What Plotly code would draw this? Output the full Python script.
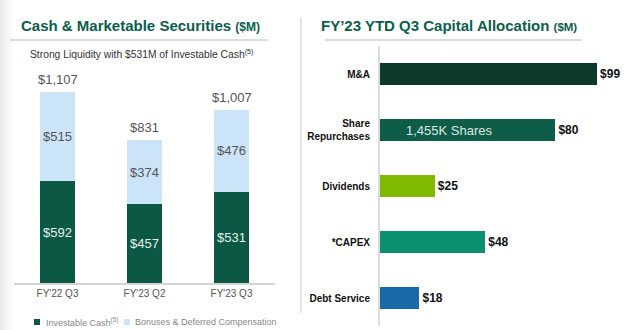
import plotly.graph_objects as go

# ---- Cash & Marketable Securities ($M) ----
periods = ["FY'22 Q3", "FY'23 Q2", "FY'23 Q3"]
investable_cash = [592, 457, 531]
bonuses_deferred = [515, 374, 476]
totals = [1107, 831, 1007]

# ---- FY'23 YTD Q3 Capital Allocation ($M) ----
alloc_labels = ["M&A", "Share<br>Repurchases", "Dividends", "*CAPEX", "Debt Service"]
alloc_values = [99, 80, 25, 48, 18]
alloc_colors = ["#0b3a2b", "#0d5d49", "#7fba00", "#0c8f71", "#1b6aa8"]
share_note = "1,455K Shares"

FONT = "Liberation Sans, Arial, sans-serif"
TITLE_GREEN = "#0b5e4b"
GREEN = "#0b5845"
LIGHT_BLUE = "#cbe4f8"

W, H = 640, 330


def px_x(p):
    return p / W


def px_y(p):
    return 1 - p / H


fig = go.Figure()

fig.add_trace(go.Bar(
    x=periods, y=investable_cash, name="Investable Cash",
    marker=dict(color=GREEN, line=dict(width=0)),
    text=[f"${v}" for v in investable_cash], textposition="inside",
    insidetextanchor="middle", constraintext="none",
    textfont=dict(family=FONT, size=13, color="#e8f0ec"),
    xaxis="x", yaxis="y", hoverinfo="skip",
))
fig.add_trace(go.Bar(
    x=periods, y=bonuses_deferred, name="Bonuses & Deferred Compensation",
    marker=dict(color=LIGHT_BLUE, line=dict(width=0)),
    text=[f"${v}" for v in bonuses_deferred], textposition="inside",
    insidetextanchor="middle", constraintext="none",
    textfont=dict(family=FONT, size=13, color="#555555"),
    xaxis="x", yaxis="y", hoverinfo="skip",
))

fig.add_trace(go.Bar(
    y=alloc_labels, x=alloc_values, orientation="h",
    marker=dict(color=alloc_colors, line=dict(width=0)),
    text=[f"<b>${v}</b>" for v in alloc_values], textposition="outside",
    cliponaxis=False, constraintext="none",
    textfont=dict(family=FONT, size=12, color="#111111"),
    xaxis="x2", yaxis="y2", hoverinfo="skip",
))

annotations = []
# totals above the stacked columns
for p, t in zip(periods, totals):
    annotations.append(dict(
        x=p, y=t, xref="x", yref="y", text=f"${t:,}", showarrow=False,
        yanchor="bottom", yshift=3,
        font=dict(family=FONT, size=13, color="#555555"),
    ))

# note inside the share repurchase bar
annotations.append(dict(
    x=31.5, y=alloc_labels[1], xref="x2", yref="y2", text=share_note,
    showarrow=False, font=dict(family=FONT, size=13, color="#dbe8e2"),
))

# panel titles, subtitle and legend texts
annotations += [
    dict(x=px_x(19), y=px_y(25), xref="paper", yref="paper", xanchor="left", yanchor="middle",
         text="<b>Cash & Marketable Securities <span style='font-size:12px'>($M)</span></b>",
         showarrow=False, font=dict(family=FONT, size=15, color=TITLE_GREEN)),
    dict(x=px_x(319), y=px_y(26), xref="paper", yref="paper", xanchor="left", yanchor="middle",
         text="<b>FY\u201923 YTD Q3 Capital Allocation <span style='font-size:11.5px'>($M)</span></b>",
         showarrow=False, font=dict(family=FONT, size=15, color=TITLE_GREEN)),
    dict(x=px_x(141), y=px_y(54), xref="paper", yref="paper", xanchor="center", yanchor="middle",
         text="Strong Liquidity with $531M of Investable Cash<sup>(5)</sup>",
         showarrow=False, font=dict(family=FONT, size=10.3, color="#333333")),
    dict(x=px_x(44), y=px_y(322), xref="paper", yref="paper", xanchor="left", yanchor="middle",
         text="Investable Cash<sup>(5)</sup>",
         showarrow=False, font=dict(family=FONT, size=9, color="#888888")),
    dict(x=px_x(133), y=px_y(322), xref="paper", yref="paper", xanchor="left", yanchor="middle",
         text="Bonuses & Deferred Compensation",
         showarrow=False, font=dict(family=FONT, size=9, color="#888888")),
]

shapes = []
# soft grey shading along the left edge
for i, op in enumerate([0.09, 0.07, 0.055, 0.04, 0.028, 0.018, 0.01]):
    shapes.append(dict(type="rect", xref="paper", yref="paper",
                       x0=px_x(i * 2), x1=px_x(i * 2 + 2), y0=0, y1=1,
                       fillcolor=f"rgba(0,0,0,{op})", line=dict(width=0), layer="below"))

shapes += [
    # title underlines
    dict(type="line", xref="paper", yref="paper", x0=px_x(10), x1=px_x(268), y0=px_y(40), y1=px_y(40),
         line=dict(color="#d0d0d0", width=1.5)),
    dict(type="line", xref="paper", yref="paper", x0=px_x(325), x1=px_x(582), y0=px_y(40), y1=px_y(40),
         line=dict(color="#d0d0d0", width=1.5)),
    # panel separator
    dict(type="line", xref="paper", yref="paper", x0=px_x(301), x1=px_x(301), y0=px_y(18), y1=px_y(313),
         line=dict(color="#dddddd", width=1.5)),
    # legend swatches
    dict(type="rect", xref="paper", yref="paper", x0=px_x(34), x1=px_x(40), y0=px_y(325), y1=px_y(319),
         fillcolor=GREEN, line=dict(width=0)),
    dict(type="rect", xref="paper", yref="paper", x0=px_x(124), x1=px_x(130), y0=px_y(325), y1=px_y(319),
         fillcolor=LIGHT_BLUE, line=dict(width=0)),
]

fig.update_layout(
    width=W, height=H,
    margin=dict(l=0, r=0, t=0, b=0),
    paper_bgcolor="white", plot_bgcolor="rgba(0,0,0,0)",
    barmode="stack", bargap=0.59,
    showlegend=False,
    font=dict(family=FONT),
    xaxis=dict(domain=[px_x(14), px_x(275)], showgrid=False, zeroline=False,
               showline=True, linecolor="#d4d4d4", linewidth=1.5, ticks="",
               tickfont=dict(family=FONT, size=10, color="#555555"), fixedrange=True),
    yaxis=dict(domain=[px_y(283), px_y(60)], range=[0, 1295], visible=False, fixedrange=True),
    xaxis2=dict(domain=[px_x(380), px_x(630)], range=[0, 114], visible=False, anchor="y2",
                fixedrange=True),
    yaxis2=dict(domain=[px_y(326), px_y(46)], anchor="x2", autorange="reversed",
                showgrid=False, zeroline=False, showline=True, linecolor="#dcdcdc", linewidth=2,
                ticks="", ticklabelstandoff=6,
                tickvals=alloc_labels, ticktext=[f"<b>{c}</b>" for c in alloc_labels],
                tickfont=dict(family=FONT, size=10, color="#111111"), fixedrange=True),
    annotations=annotations,
    shapes=shapes,
)

fig.write_html("out.html")
